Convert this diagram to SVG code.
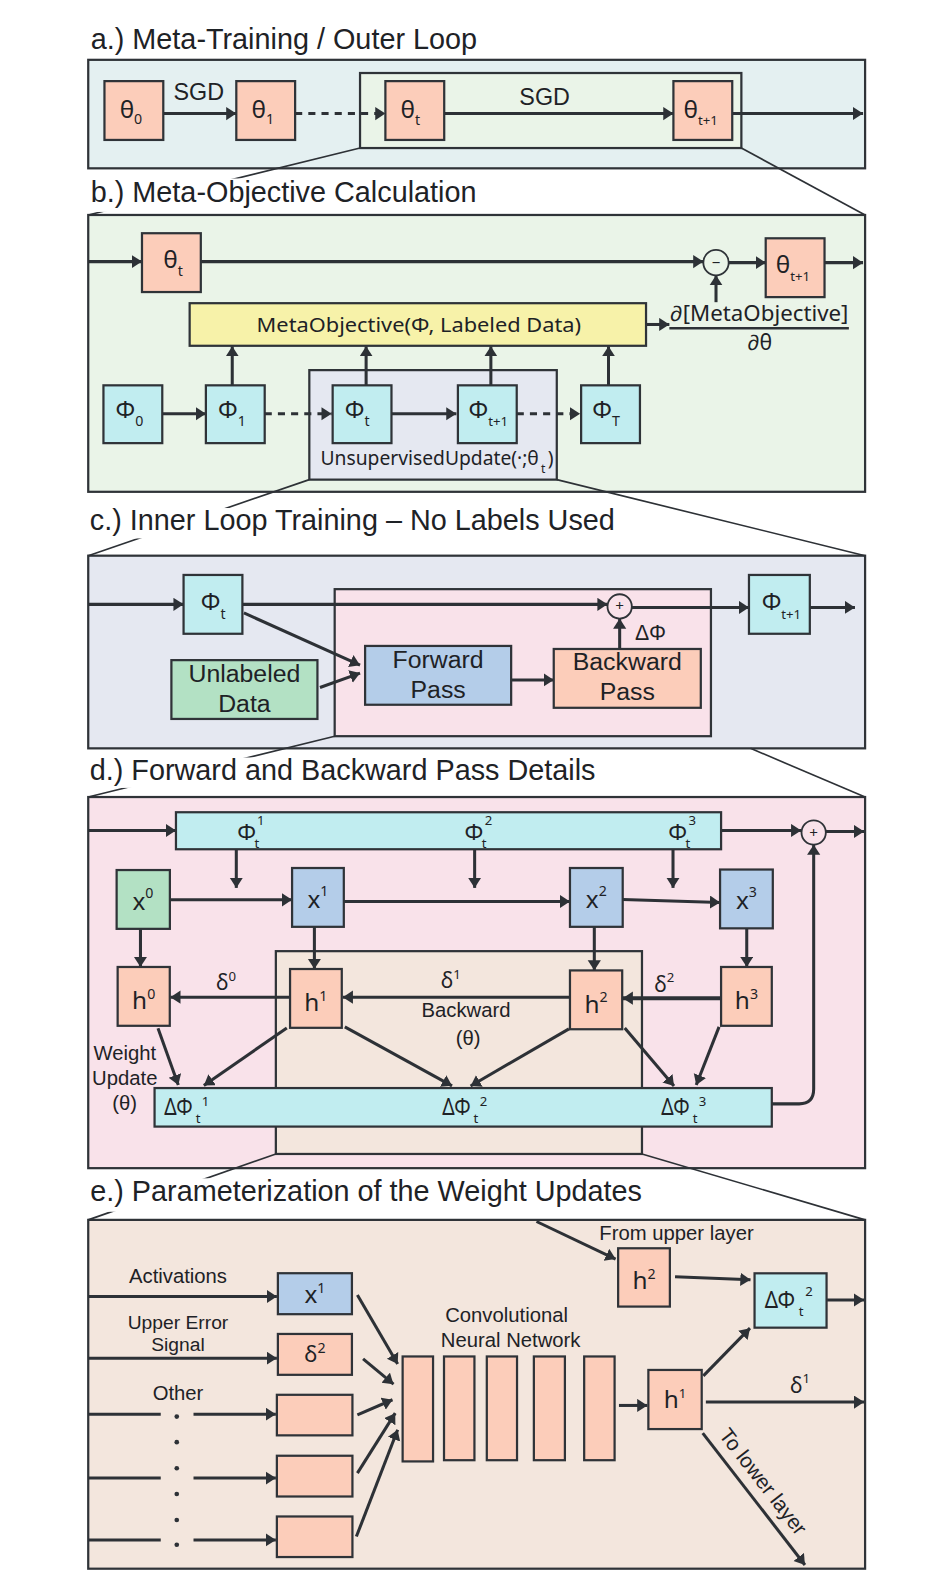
<svg xmlns="http://www.w3.org/2000/svg" width="930" height="1590" viewBox="0 0 930 1590">
<defs>
<style>
.bx{stroke:#2f3338;stroke-width:2.2}
.sa{fill:#fccdba}
.cy{fill:#c1edf0}
.bl{fill:#b4cde9}
.gr{fill:#b3e1c4}
.ye{fill:#f7f2a9}
.ln{stroke:#2d3136;stroke-width:3;fill:none;marker-end:url(#ah)}
.dl{stroke:#2d3136;stroke-width:3;fill:none;stroke-dasharray:7 6;marker-end:url(#ah)}
.pl{stroke:#2d3136;stroke-width:3;fill:none}
.zl{stroke:#2d3136;stroke-width:1.6;fill:none}
.ti{font-family:"Liberation Sans",Arial,sans-serif;font-size:28.4px;fill:#1e2226}
.ar{font-family:"Liberation Sans",Arial,sans-serif;fill:#1e2226}
.my{font-family:"Noto Sans","Open Sans",sans-serif;fill:#1e2226}
.wb{fill:#ffffff}
</style>
<marker id="ah" markerUnits="userSpaceOnUse" markerWidth="11" markerHeight="14" refX="10" refY="6.5" orient="auto"><path d="M0,0 L10,6.5 L0,13 z" fill="#2d3136"/></marker>
</defs>
<rect x="0" y="0" width="930" height="1590" fill="#ffffff"/>
<g transform="scale(1.01418 1.01403)">

<!-- ===== Panel backgrounds ===== -->
<g id="panel-a">
<rect x="87" y="59" width="766" height="107" fill="#e4f0f1" class="bx"/>
<rect x="355" y="72" width="376" height="74" fill="#eaf4e8" class="bx"/>
</g>
<g id="panel-b">
<rect x="87" y="212" width="766" height="273" fill="#eaf4e8" class="bx"/>
<rect x="305" y="365" width="244" height="108" fill="#e5e8f1" class="bx"/>
</g>
<g id="panel-c">
<rect x="87" y="548" width="766" height="190" fill="#e5e8f1" class="bx"/>
<rect x="330" y="581" width="371" height="145" fill="#f9e2ea" class="bx"/>
</g>
<g id="panel-d">
<rect x="87" y="786" width="766" height="366" fill="#f9e2ea" class="bx"/>
<rect x="272" y="938" width="361" height="200" fill="#f3e6dd" class="bx"/>
</g>
<g id="panel-e">
<rect x="87" y="1203" width="766" height="344" fill="#f3e6dd" class="bx"/>
</g>

<!-- ===== zoom lines ===== -->
<g id="zoom-lines">
<line x1="355" y1="146" x2="87" y2="212" class="zl"/>
<line x1="731" y1="146" x2="853" y2="212" class="zl"/>
<line x1="305" y1="473" x2="87" y2="548" class="zl"/>
<line x1="549" y1="473" x2="853" y2="548" class="zl"/>
<line x1="330" y1="726" x2="87" y2="786" class="zl"/>
<line x1="740" y1="738" x2="853" y2="786" class="zl"/>
<line x1="272" y1="1138" x2="87" y2="1203" class="zl"/>
<line x1="633" y1="1138" x2="853" y2="1203" class="zl"/>
</g>

<!-- ===== titles ===== -->
<g id="titles">
<text x="89.5" y="48.6" class="ti">a.) Meta-Training / Outer Loop</text>
<rect x="86" y="176" width="392" height="33" class="wb"/>
<text x="89.5" y="198.8" class="ti">b.) Meta-Objective Calculation</text>
<rect x="86" y="501" width="528" height="30" class="wb"/>
<text x="88.5" y="523" class="ti">c.) Inner Loop Training – No Labels Used</text>
<rect x="86" y="747" width="512" height="30" class="wb"/>
<text x="88.5" y="769" class="ti">d.) Forward and Backward Pass Details</text>
<rect x="86" y="1162" width="554" height="33" class="wb"/>
<text x="89" y="1184" class="ti">e.) Parameterization of the Weight Updates</text>
</g>

<!-- ===== connectors ===== -->
<g id="connectors">
<!-- a -->
<line x1="161" y1="112" x2="233" y2="112" class="ln"/>
<line x1="291" y1="112" x2="380" y2="112" class="dl"/>
<line x1="438" y1="112" x2="664" y2="112" class="ln"/>
<line x1="722" y1="112" x2="851" y2="112" class="ln"/>
<!-- b -->
<line x1="87" y1="258" x2="140" y2="258" class="ln"/>
<line x1="198" y1="258" x2="693.5" y2="258" class="ln"/>
<line x1="718.5" y1="259" x2="755" y2="259" class="ln"/>
<line x1="813" y1="259" x2="851" y2="259" class="ln"/>
<line x1="706" y1="298" x2="706" y2="271.5" class="ln"/>
<line x1="637" y1="320" x2="660" y2="320" class="ln"/>
<line x1="229" y1="380" x2="229" y2="341.5" class="ln"/>
<line x1="361" y1="380" x2="361" y2="341.5" class="ln"/>
<line x1="484" y1="380" x2="484" y2="341.5" class="ln"/>
<line x1="600" y1="380" x2="600" y2="341.5" class="ln"/>
<line x1="160" y1="408" x2="203" y2="408" class="ln"/>
<line x1="261" y1="408" x2="327" y2="408" class="dl"/>
<line x1="386" y1="408" x2="450" y2="408" class="ln"/>
<line x1="509.5" y1="408" x2="572" y2="408" class="dl"/>
<!-- c -->
<line x1="87" y1="596" x2="181" y2="596" class="ln"/>
<line x1="239.6" y1="596" x2="599" y2="596" class="ln"/>
<line x1="623" y1="599" x2="738.5" y2="599" class="ln"/>
<line x1="798.5" y1="599" x2="843" y2="599" class="ln"/>
<line x1="611" y1="640" x2="611" y2="610" class="ln"/>
<line x1="240.5" y1="604.5" x2="355" y2="656" class="ln"/>
<line x1="315.5" y1="678" x2="355" y2="663.8" class="ln"/>
<line x1="504" y1="670.5" x2="546" y2="670.5" class="ln"/>
<!-- d -->
<line x1="87" y1="819" x2="173.5" y2="819" class="ln"/>
<line x1="711" y1="819" x2="790" y2="819" class="ln"/>
<line x1="814" y1="820" x2="852" y2="820" class="ln"/>
<line x1="233" y1="837.5" x2="233" y2="875.6" class="ln"/>
<line x1="468" y1="837.5" x2="468" y2="875.6" class="ln"/>
<line x1="663.6" y1="837.5" x2="663.6" y2="875.6" class="ln"/>
<line x1="167.5" y1="887.4" x2="288" y2="887.4" class="ln"/>
<line x1="339" y1="889" x2="562" y2="889" class="ln"/>
<line x1="614" y1="887" x2="710" y2="890" class="ln"/>
<line x1="138.5" y1="916" x2="138.5" y2="953.6" class="ln"/>
<line x1="310" y1="914" x2="310" y2="955.6" class="ln"/>
<line x1="586" y1="914" x2="586" y2="957" class="ln"/>
<line x1="736.3" y1="915.5" x2="736.3" y2="953.6" class="ln"/>
<line x1="286" y1="983.4" x2="168" y2="983.4" class="ln"/>
<line x1="562" y1="983.4" x2="338" y2="983.4" class="ln"/>
<line x1="711" y1="984.4" x2="614" y2="984.4" class="ln" style="stroke-width:4"/>
<line x1="155.8" y1="1014" x2="175.8" y2="1070" class="ln"/>
<line x1="282.8" y1="1013.7" x2="201" y2="1070.5" class="ln"/>
<line x1="340" y1="1012.6" x2="445.7" y2="1070.8" class="ln"/>
<line x1="561" y1="1014.6" x2="464" y2="1071" class="ln"/>
<line x1="616" y1="1013.7" x2="664.6" y2="1071" class="ln"/>
<line x1="709" y1="1012.7" x2="686.5" y2="1070" class="ln"/>
<path d="M761,1088.6 L788,1088.6 Q802.3,1088.6 802.3,1074 L802.3,833" class="ln"/>
<!-- e -->
<line x1="529" y1="1204.6" x2="607" y2="1241.7" class="ln"/>
<line x1="665.6" y1="1259" x2="740" y2="1262" class="ln"/>
<line x1="815.5" y1="1282" x2="852" y2="1282" class="ln"/>
<line x1="87" y1="1278.6" x2="273" y2="1278.6" class="ln"/>
<line x1="87" y1="1339.4" x2="273" y2="1339.4" class="ln"/>
<line x1="87" y1="1394.6" x2="158.5" y2="1394.6" class="pl"/>
<line x1="190.8" y1="1394.6" x2="272" y2="1394.6" class="ln"/>
<line x1="87" y1="1457.6" x2="158.5" y2="1457.6" class="pl"/>
<line x1="190.8" y1="1457.6" x2="272" y2="1457.6" class="ln"/>
<line x1="87" y1="1518.6" x2="158.5" y2="1518.6" class="pl"/>
<line x1="190.8" y1="1518.6" x2="272" y2="1518.6" class="ln"/>
<line x1="352.4" y1="1277" x2="392.1" y2="1345.2" class="ln"/>
<line x1="358" y1="1340" x2="388" y2="1365" class="ln"/>
<line x1="352.4" y1="1395.3" x2="387" y2="1380.4" class="ln"/>
<line x1="352.4" y1="1452.8" x2="389.7" y2="1393.6" class="ln"/>
<line x1="351.4" y1="1515.3" x2="392.1" y2="1410" class="ln"/>
<line x1="610.3" y1="1386" x2="638.3" y2="1386" class="ln"/>
<line x1="693.5" y1="1356.8" x2="739.5" y2="1309.8" class="ln"/>
<line x1="696" y1="1382.7" x2="852" y2="1382.7" class="ln"/>
<line x1="692.9" y1="1413.3" x2="793.7" y2="1543.3" class="ln"/>
</g>

<!-- ===== connector labels ===== -->
<g id="labels">
<text x="196" y="98.6" class="ar" font-size="23" text-anchor="middle">SGD</text>
<text x="537" y="103.5" class="ar" font-size="23" text-anchor="middle">SGD</text>
<text x="660.5" y="317" class="my" font-size="21" textLength="176" lengthAdjust="spacingAndGlyphs">∂[MetaObjective]</text>
<line x1="660" y1="323.7" x2="837" y2="323.7" stroke="#2d3136" stroke-width="2.4"/>
<text x="749" y="345" class="my" font-size="21" text-anchor="middle">∂θ</text>
<text x="316" y="458.5" class="my" font-size="19">UnsupervisedUpdate(·;θ</text>
<text x="533.5" y="466" class="my" font-size="12">t</text>
<text x="540" y="458.5" class="my" font-size="19">)</text>
<text x="626" y="631" class="ar" font-size="21">ΔΦ</text>
<text x="213" y="976" class="my" font-size="21">δ<tspan font-size="13" dy="-9">0</tspan></text>
<text x="434.5" y="974.5" class="my" font-size="21">δ<tspan font-size="13" dy="-9">1</tspan></text>
<text x="645" y="977.8" class="my" font-size="21">δ<tspan font-size="13" dy="-9">2</tspan></text>
<text x="459.5" y="1003" class="ar" font-size="20" text-anchor="middle">Backward</text>
<text x="461.5" y="1030.5" class="ar" font-size="20" text-anchor="middle">(θ)</text>
<text x="123" y="1045" class="ar" font-size="20" text-anchor="middle">Weight</text>
<text x="123" y="1070" class="ar" font-size="20" text-anchor="middle">Update</text>
<text x="123" y="1094.6" class="ar" font-size="20" text-anchor="middle">(θ)</text>
<text x="591" y="1222.7" class="ar" font-size="20">From upper layer</text>
<text x="175.5" y="1265" class="ar" font-size="20" text-anchor="middle">Activations</text>
<text x="175.5" y="1311" class="ar" font-size="19" text-anchor="middle">Upper Error</text>
<text x="175.5" y="1332.5" class="ar" font-size="19" text-anchor="middle">Signal</text>
<text x="175.5" y="1380.5" class="ar" font-size="20" text-anchor="middle">Other</text>
<text x="499.5" y="1304.2" class="ar" font-size="20" text-anchor="middle">Convolutional</text>
<text x="503.5" y="1328.5" class="ar" font-size="20" text-anchor="middle">Neural Network</text>
<text x="779" y="1373.3" class="my" font-size="21">δ<tspan font-size="13" dy="-9">1</tspan></text>
<text transform="translate(708.2,1415.4) rotate(52.2)" class="ar" font-size="20.5">To lower layer</text>
<g fill="#2d3136">
<circle cx="174.3" cy="1397" r="2.3"/>
<circle cx="174.3" cy="1422.2" r="2.3"/>
<circle cx="174.3" cy="1447.9" r="2.3"/>
<circle cx="174.3" cy="1473.3" r="2.3"/>
<circle cx="174.3" cy="1499" r="2.3"/>
<circle cx="174.3" cy="1523.4" r="2.3"/>
</g>
</g>

<!-- ===== nodes: panel a ===== -->
<g id="a-theta0"><rect x="103" y="80" width="58" height="58" class="bx sa"/><text x="118" y="116" class="my" font-size="24">θ<tspan font-size="14" dy="6">0</tspan></text></g>
<g id="a-theta1"><rect x="233" y="80" width="58" height="58" class="bx sa"/><text x="248" y="116" class="my" font-size="24">θ<tspan font-size="14" dy="6">1</tspan></text></g>
<g id="a-thetat"><rect x="380" y="80" width="58" height="58" class="bx sa"/><text x="395" y="116" class="my" font-size="24">θ<tspan font-size="14" dy="7">t</tspan></text></g>
<g id="a-thetat1"><rect x="664" y="80" width="58" height="58" class="bx sa"/><text x="674" y="116" class="my" font-size="24">θ<tspan font-size="13" dy="7">t+1</tspan></text></g>

<!-- ===== nodes: panel b ===== -->
<g id="b-thetat"><rect x="140" y="230" width="58" height="58" class="bx sa"/><text x="161" y="264" class="my" font-size="24">θ<tspan font-size="14" dy="8">t</tspan></text></g>
<g id="b-minus"><circle cx="706" cy="259" r="12.5" fill="#eaf4e8" stroke="#2f3338" stroke-width="1.8"/><text x="706" y="264" class="my" font-size="15" text-anchor="middle">−</text></g>
<g id="b-thetat1"><rect x="755" y="235" width="58" height="58" class="bx sa"/><text x="765" y="269" class="my" font-size="24">θ<tspan font-size="13" dy="8">t+1</tspan></text></g>
<g id="b-metaobj"><rect x="187" y="299" width="450" height="42" class="bx ye"/><text x="253" y="327" class="my" font-size="20.5" textLength="320" lengthAdjust="spacingAndGlyphs">MetaObjective(Φ, Labeled Data)</text></g>
<g id="b-phi0"><rect x="102" y="380" width="58" height="57" class="bx cy"/><text x="114" y="412" class="my" font-size="23">Φ<tspan font-size="14" dy="8">0</tspan></text></g>
<g id="b-phi1"><rect x="203" y="380" width="58" height="57" class="bx cy"/><text x="215" y="412" class="my" font-size="23">Φ<tspan font-size="14" dy="8">1</tspan></text></g>
<g id="b-phit"><rect x="328" y="380" width="58" height="57" class="bx cy"/><text x="340" y="412" class="my" font-size="23">Φ<tspan font-size="14" dy="8">t</tspan></text></g>
<g id="b-phit1"><rect x="451.5" y="380" width="58" height="57" class="bx cy"/><text x="462" y="412" class="my" font-size="23">Φ<tspan font-size="13" dy="8">t+1</tspan></text></g>
<g id="b-phiT"><rect x="573" y="380" width="58" height="57" class="bx cy"/><text x="584" y="412" class="my" font-size="23">Φ<tspan font-size="14" dy="8">T</tspan></text></g>

<!-- ===== nodes: panel c ===== -->
<g id="c-phit"><rect x="181" y="567" width="58" height="58" class="bx cy"/><text x="198" y="602" class="my" font-size="23">Φ<tspan font-size="14" dy="8">t</tspan></text></g>
<g id="c-plus"><circle cx="611" cy="598" r="12" fill="#f9e2ea" stroke="#2f3338" stroke-width="1.8"/><text x="611" y="603" class="my" font-size="15" text-anchor="middle">+</text></g>
<g id="c-phit1"><rect x="738.5" y="567" width="60" height="58" class="bx cy"/><text x="751" y="602" class="my" font-size="23">Φ<tspan font-size="13" dy="8">t+1</tspan></text></g>
<g id="c-forward"><rect x="360" y="637" width="144" height="58" class="bx bl"/><text x="432" y="659" class="ar" font-size="24.5" text-anchor="middle">Forward</text><text x="432" y="688" class="ar" font-size="24.5" text-anchor="middle">Pass</text></g>
<g id="c-backward"><rect x="546" y="640" width="145" height="58" class="bx sa"/><text x="618.5" y="661" class="ar" font-size="24.5" text-anchor="middle">Backward</text><text x="618.5" y="690" class="ar" font-size="24.5" text-anchor="middle">Pass</text></g>
<g id="c-unlabeled"><rect x="169" y="651" width="144" height="58" class="bx gr"/><text x="241" y="673" class="ar" font-size="24.5" text-anchor="middle">Unlabeled</text><text x="241" y="702" class="ar" font-size="24.5" text-anchor="middle">Data</text></g>

<!-- ===== nodes: panel d ===== -->
<g id="d-phibar"><rect x="173.5" y="801" width="537.5" height="36.5" class="bx cy"/>
<text x="234" y="828" class="my" font-size="22">Φ</text><text x="251" y="836" class="my" font-size="13">t</text><text x="253.5" y="814" class="my" font-size="13">1</text>
<text x="458" y="828" class="my" font-size="22">Φ</text><text x="475" y="836" class="my" font-size="13">t</text><text x="478" y="814" class="my" font-size="13">2</text>
<text x="659" y="828" class="my" font-size="22">Φ</text><text x="676" y="836" class="my" font-size="13">t</text><text x="679" y="814" class="my" font-size="13">3</text>
</g>
<g id="d-plus"><circle cx="802.3" cy="821" r="12" fill="#f9e2ea" stroke="#2f3338" stroke-width="1.8"/><text x="802.3" y="826" class="my" font-size="15" text-anchor="middle">+</text></g>
<g id="d-x0"><rect x="115" y="858" width="52.5" height="58" class="bx gr"/><text x="141" y="897" class="my" font-size="24" text-anchor="middle">x<tspan font-size="14" dy="-11">0</tspan></text></g>
<g id="d-x1"><rect x="288" y="856" width="51" height="58" class="bx bl"/><text x="313.5" y="895" class="my" font-size="24" text-anchor="middle">x<tspan font-size="14" dy="-11">1</tspan></text></g>
<g id="d-x2"><rect x="562" y="856" width="52" height="58" class="bx bl"/><text x="588" y="895" class="my" font-size="24" text-anchor="middle">x<tspan font-size="14" dy="-11">2</tspan></text></g>
<g id="d-x3"><rect x="710" y="857.5" width="52" height="58" class="bx bl"/><text x="736" y="896" class="my" font-size="24" text-anchor="middle">x<tspan font-size="14" dy="-11">3</tspan></text></g>
<g id="d-h0"><rect x="116" y="953.6" width="51.4" height="58" class="bx sa"/><text x="141.7" y="995.3" class="my" font-size="24" text-anchor="middle">h<tspan font-size="14" dy="-10">0</tspan></text></g>
<g id="d-h1"><rect x="286" y="955.6" width="51" height="58" class="bx sa"/><text x="311.5" y="997" class="my" font-size="24" text-anchor="middle">h<tspan font-size="14" dy="-10">1</tspan></text></g>
<g id="d-h2"><rect x="562" y="957" width="51.5" height="58" class="bx sa"/><text x="587.7" y="998.5" class="my" font-size="24" text-anchor="middle">h<tspan font-size="14" dy="-10">2</tspan></text></g>
<g id="d-h3"><rect x="711" y="953.6" width="50" height="58" class="bx sa"/><text x="736" y="995" class="my" font-size="24" text-anchor="middle">h<tspan font-size="14" dy="-10">3</tspan></text></g>
<g id="d-dphibar"><rect x="152.4" y="1073" width="608.6" height="38" class="bx cy"/>
<text x="162" y="1100" class="my" font-size="23" textLength="28" lengthAdjust="spacingAndGlyphs">ΔΦ</text><text x="193" y="1107" class="my" font-size="13">t</text><text x="199" y="1090.5" class="my" font-size="13">1</text>
<text x="436" y="1100" class="my" font-size="23" textLength="28" lengthAdjust="spacingAndGlyphs">ΔΦ</text><text x="467" y="1107" class="my" font-size="13">t</text><text x="473" y="1090.5" class="my" font-size="13">2</text>
<text x="652" y="1100" class="my" font-size="23" textLength="28" lengthAdjust="spacingAndGlyphs">ΔΦ</text><text x="683" y="1107" class="my" font-size="13">t</text><text x="689" y="1090.5" class="my" font-size="13">3</text>
</g>

<!-- ===== nodes: panel e ===== -->
<g id="e-h2"><rect x="609.5" y="1231" width="51" height="57.5" class="bx sa"/><text x="635" y="1271" class="my" font-size="24" text-anchor="middle">h<tspan font-size="14" dy="-10">2</tspan></text></g>
<g id="e-dphi"><rect x="744" y="1255.7" width="71" height="53.6" class="bx cy"/><text x="754" y="1290" class="my" font-size="23" textLength="30" lengthAdjust="spacingAndGlyphs">ΔΦ</text><text x="787.5" y="1298" class="my" font-size="13">t</text><text x="794" y="1278" class="my" font-size="13">2</text></g>
<g id="e-x1"><rect x="274" y="1255.6" width="73" height="40.4" class="bx bl"/><text x="310.5" y="1285" class="my" font-size="24" text-anchor="middle">x<tspan font-size="14" dy="-10">1</tspan></text></g>
<g id="e-d2"><rect x="274" y="1315.5" width="73" height="40.3" class="bx sa"/><text x="310.5" y="1343" class="my" font-size="22" text-anchor="middle">δ<tspan font-size="14" dy="-9">2</tspan></text></g>
<g id="e-in3"><rect x="273" y="1375.5" width="74.5" height="40" class="bx sa"/></g>
<g id="e-in4"><rect x="273" y="1435.6" width="74.5" height="40.2" class="bx sa"/></g>
<g id="e-in5"><rect x="273" y="1495.5" width="74.5" height="40" class="bx sa"/></g>
<g id="e-cnn">
<rect x="397" y="1337.7" width="30" height="103.5" class="bx sa"/>
<rect x="437.8" y="1337.7" width="30" height="102.3" class="bx sa"/>
<rect x="480" y="1337.7" width="29.8" height="102.3" class="bx sa"/>
<rect x="526.4" y="1337.7" width="30.6" height="102.3" class="bx sa"/>
<rect x="576" y="1337.7" width="30" height="102.3" class="bx sa"/>
</g>
<g id="e-h1"><rect x="639.3" y="1351" width="52.6" height="58.3" class="bx sa"/><text x="665.6" y="1388.6" class="my" font-size="24" text-anchor="middle">h<tspan font-size="13" dy="-10">1</tspan></text></g>

</g>
</svg>
